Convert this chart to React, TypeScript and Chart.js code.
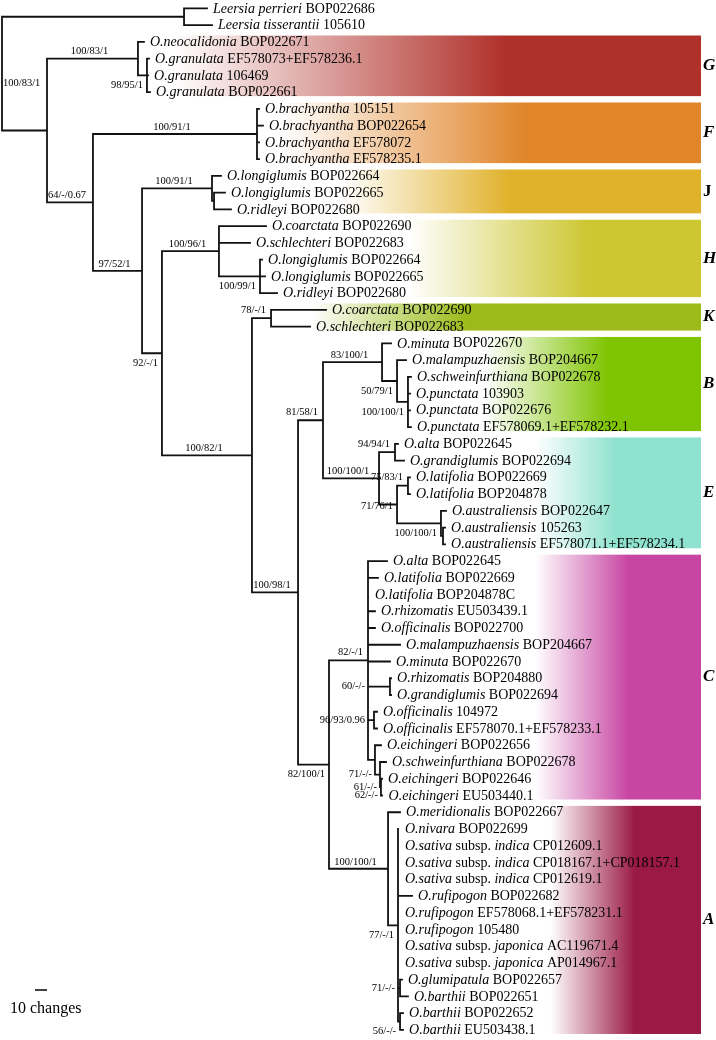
import React, { useEffect, useRef } from "react";
import { Chart, registerables } from "chart.js";
Chart.register(...registerables);

// ---------- DATA ----------
// Tip labels in top-to-bottom order (*...* = italic)
const tipNames: string[] = [
  "*Leersia perrieri* BOP022686",
  "*Leersia tisserantii* 105610",
  "*O.neocalidonia* BOP022671",
  "*O.granulata* EF578073+EF578236.1",
  "*O.granulata* 106469",
  "*O.granulata* BOP022661",
  "*O.brachyantha* 105151",
  "*O.brachyantha* BOP022654",
  "*O.brachyantha* EF578072",
  "*O.brachyantha* EF578235.1",
  "*O.longiglumis* BOP022664",
  "*O.longiglumis* BOP022665",
  "*O.ridleyi* BOP022680",
  "*O.coarctata* BOP022690",
  "*O.schlechteri* BOP022683",
  "*O.longiglumis* BOP022664",
  "*O.longiglumis* BOP022665",
  "*O.ridleyi* BOP022680",
  "*O.coarctata* BOP022690",
  "*O.schlechteri* BOP022683",
  "*O.minuta* BOP022670",
  "*O.malampuzhaensis* BOP204667",
  "*O.schweinfurthiana* BOP022678",
  "*O.punctata* 103903",
  "*O.punctata* BOP022676",
  "*O.punctata* EF578069.1+EF578232.1",
  "*O.alta* BOP022645",
  "*O.grandiglumis* BOP022694",
  "*O.latifolia* BOP022669",
  "*O.latifolia* BOP204878",
  "*O.australiensis* BOP022647",
  "*O.australiensis* 105263",
  "*O.australiensis* EF578071.1+EF578234.1",
  "*O.alta* BOP022645",
  "*O.latifolia* BOP022669",
  "*O.latifolia* BOP204878C",
  "*O.rhizomatis* EU503439.1",
  "*O.officinalis* BOP022700",
  "*O.malampuzhaensis* BOP204667",
  "*O.minuta* BOP022670",
  "*O.rhizomatis* BOP204880",
  "*O.grandiglumis* BOP022694",
  "*O.officinalis* 104972",
  "*O.officinalis* EF578070.1+EF578233.1",
  "*O.eichingeri* BOP022656",
  "*O.schweinfurthiana* BOP022678",
  "*O.eichingeri* BOP022646",
  "*O.eichingeri* EU503440.1",
  "*O.meridionalis* BOP022667",
  "*O.nivara* BOP022699",
  "*O.sativa* subsp. *indica* CP012609.1",
  "*O.sativa* subsp. *indica* CP018167.1+CP018157.1",
  "*O.sativa* subsp. *indica* CP012619.1",
  "*O.rufipogon* BOP022682",
  "*O.rufipogon* EF578068.1+EF578231.1",
  "*O.rufipogon* 105480",
  "*O.sativa* subsp. *japonica* AC119671.4",
  "*O.sativa* subsp. *japonica* AP014967.1",
  "*O.glumipatula* BOP022657",
  "*O.barthii* BOP022651",
  "*O.barthii* BOP022652",
  "*O.barthii* EU503438.1",
];

// parent internal node of each tip
const tipParents: number[] = [
  1, 1, 3, 4, 4, 4, 6, 6, 6, 6, 8, 9, 9, 11, 11, 12, 12, 12, 14, 14,
  17, 18, 19, 19, 19, 19, 21, 21, 23, 23, 24, 25, 25,
  27, 27, 27, 27, 27, 27, 27, 28, 28, 29, 29, 30, 31, 32, 33,
  34, 35, 35, 35, 35, 35, 35, 35, 35, 35, 36, 36, 37, 37,
];

// distance from root (changes) of each tip
const tipDepths: number[] = [
  170.8, 175, 118.3, 122.5, 121.7, 123.3, 214.2, 217.5, 214.2, 214.2,
  182.5, 185.8, 190.8, 220, 206.7, 216.7, 219.2, 229.2, 270, 256.7,
  324.2, 336.7, 340.8, 340, 340, 340.8, 330, 335, 340, 340, 370, 369.2, 369.2,
  320.8, 313.3, 305.8, 310.8, 310.8, 331.7, 323.3, 324.2, 324.2, 312.5, 312.5,
  315.8, 320, 316.7, 317.1,
  331.7, 330.8, 330.8, 330.8, 330.8, 341.7, 330.8, 330.8, 330.8, 330.8,
  333.3, 338.3, 334.2, 334.2,
];

// internal nodes: parent, depth from root (changes), support value
const nodeParents: number[] = [
  -1, 0, 0, 2, 3, 2, 5, 5, 7, 8, 7, 10, 11, 10, 13, 13, 15, 16, 17, 18,
  16, 20, 20, 22, 22, 24, 15, 26, 27, 27, 27, 30, 31, 32, 26, 34, 35, 35,
];
const nodeDepths: number[] = [
  0, 151.7, 37.5, 113.3, 120.8, 75.8, 212.5, 116.7, 175, 176.7, 133.3, 180.8,
  215, 208.3, 224.2, 246.7, 267.5, 316.7, 329.2, 338.3, 314.2, 327.5, 329.2,
  338.3, 365.8, 367.5, 272.5, 305, 323.3, 310, 310.8, 315, 315.8, 316.7,
  321.7, 330, 331.7, 331.7,
];
const nodeSupports: string[] = [
  "100/83/1", "", "", "100/83/1", "98/95/1", "64/-/0.67", "100/91/1", "97/52/1",
  "100/91/1", "", "92/-/1", "100/96/1", "100/99/1", "100/82/1", "78/-/1", "100/98/1",
  "81/58/1", "83/100/1", "50/79/1", "100/100/1", "100/100/1", "94/94/1", "71/76/1",
  "75/83/1", "100/100/1", "", "82/100/1", "82/-/1", "60/-/-", "96/93/0.96", "",
  "71/-/-", "61/-/-", "62/-/-", "100/100/1", "77/-/1", "71/-/-", "56/-/-",
];

// clades
const cladeLetters: string[] = ["G", "F", "J", "H", "K", "B", "E", "C", "A"];
const cladeFirstTip: number[] = [2, 6, 10, 13, 18, 20, 26, 33, 48];
const cladeLastTip: number[] = [5, 9, 12, 17, 19, 25, 32, 47, 61];

const scaleBarChanges = 10;
const scaleBarLabel = "10 changes";

// ---------- STYLE ----------
const supportPlacement: string[] = [
  "rightBelow", "", "", "above", "belowLeft", "above", "above", "above",
  "above", "", "belowLeft", "above", "belowLeft", "above", "aboveLeft", "above",
  "aboveLeft", "above", "belowLeft", "belowLeft", "above", "aboveLeft", "left",
  "aboveLeft", "belowLeft", "", "belowLeft", "aboveLeft", "parentLeft", "parentLeft", "",
  "parentLeft", "parentLeft", "parentLeft", "above", "belowLeft", "parentLeft", "belowLeft",
];
const cladeColors: string[] = [
  "#b0302a", "#e0852a", "#e0b22c", "#cdc732", "#9cbb1a",
  "#7fc400", "#8fe2cf", "#c846a3", "#9b1a45",
];
const cladeFade: number[][] = [
  [0.05, 0.65], [0.05, 0.6], [0.25, 0.6], [0.35, 0.75], [0.0, 0.4],
  [0.3, 0.7], [0.45, 0.72], [0.5, 0.78], [0.5, 0.78],
];
const cladeItalic: boolean[] = [true, true, false, true, true, true, true, true, true];
const SERIF = '"Liberation Serif", "Times New Roman", serif';
const W = 716;
const H = 1040;
const BAND_RIGHT = 701;
const LABEL_GAP = 6;

function layoutTree() {
  const n = nodeParents.length;
  const children: { t: number; i: number }[][] = Array.from({ length: n }, () => []);
  tipParents.forEach((p, i) => children[p].push({ t: 0, i }));
  nodeParents.forEach((p, i) => {
    if (p >= 0) children[p].push({ t: 1, i });
  });
  const nodeY: number[] = new Array(n).fill(NaN);
  const yOf = (c: { t: number; i: number }): number => (c.t === 0 ? c.i : nodeYOf(c.i));
  function nodeYOf(k: number): number {
    if (!isNaN(nodeY[k])) return nodeY[k];
    const ys = children[k].map(yOf);
    nodeY[k] = (Math.min(...ys) + Math.max(...ys)) / 2;
    return nodeY[k];
  }
  for (let k = 0; k < n; k++) nodeYOf(k);
  return { children, nodeY };
}

function drawRich(ctx: CanvasRenderingContext2D, text: string, x: number, y: number, size: number) {
  const parts = text.split("*");
  let cx = x;
  parts.forEach((p, idx) => {
    if (!p) return;
    ctx.font = `${idx % 2 === 1 ? "italic " : ""}${size}px ${SERIF}`;
    ctx.fillText(p, cx, y);
    cx += ctx.measureText(p).width;
  });
}

export default function App() {
  const ref = useRef<HTMLCanvasElement | null>(null);
  useEffect(() => {
    if (!ref.current) return;
    const { children, nodeY } = layoutTree();
    const pts: { x: number; y: number }[] = [];
    const gap = { x: NaN, y: NaN };
    children.forEach((ch, k) => {
      const ys = ch.map((c) => (c.t === 0 ? c.i : nodeY[c.i]));
      const x0 = nodeDepths[k];
      pts.push({ x: x0, y: Math.min(...ys) }, { x: x0, y: Math.max(...ys) }, gap);
      ch.forEach((c) => {
        const cy = c.t === 0 ? c.i : nodeY[c.i];
        const cx = c.t === 0 ? tipDepths[c.i] : nodeDepths[c.i];
        pts.push({ x: x0, y: cy }, { x: cx, y: cy }, gap);
      });
    });

    const bandsPlugin = {
      id: "bands",
      beforeDatasetsDraw(chart: any) {
        const ctx = chart.ctx as CanvasRenderingContext2D;
        const xs = chart.scales.x;
        const ys = chart.scales.y;
        ctx.save();
        cladeLetters.forEach((L, k) => {
          let left = Infinity;
          for (let i = cladeFirstTip[k]; i <= cladeLastTip[k]; i++) {
            left = Math.min(left, xs.getPixelForValue(tipDepths[i]) + LABEL_GAP);
          }
          left -= 5;
          const top = ys.getPixelForValue(cladeFirstTip[k] - 0.38);
          const bottom = ys.getPixelForValue(cladeLastTip[k] + 0.24);
          const g = ctx.createLinearGradient(left, 0, BAND_RIGHT, 0);
          g.addColorStop(0, "#ffffff");
          g.addColorStop(cladeFade[k][0], "#ffffff");
          g.addColorStop(cladeFade[k][1], cladeColors[k]);
          g.addColorStop(1, cladeColors[k]);
          ctx.fillStyle = g;
          ctx.fillRect(left, top, BAND_RIGHT - left, bottom - top);
          ctx.fillStyle = "#000";
          ctx.font = `${cladeItalic[k] ? "italic " : ""}bold 17px ${SERIF}`;
          ctx.textAlign = "left";
          ctx.textBaseline = "middle";
          ctx.fillText(L, BAND_RIGHT + 2, (top + bottom) / 2);
        });
        ctx.restore();
      },
      afterDatasetsDraw(chart: any) {
        const ctx = chart.ctx as CanvasRenderingContext2D;
        const xs = chart.scales.x;
        const ys = chart.scales.y;
        ctx.save();
        ctx.fillStyle = "#000";
        ctx.textBaseline = "middle";
        ctx.textAlign = "left";
        tipNames.forEach((name, i) => {
          drawRich(ctx, name, xs.getPixelForValue(tipDepths[i]) + LABEL_GAP, ys.getPixelForValue(i) + 0.5, 14);
        });
        ctx.font = `10.5px ${SERIF}`;
        nodeSupports.forEach((s, k) => {
          if (!s) return;
          const nx = xs.getPixelForValue(nodeDepths[k]);
          const ny = ys.getPixelForValue(nodeY[k]);
          const p = nodeParents[k];
          const px = p >= 0 ? xs.getPixelForValue(nodeDepths[p]) : nx;
          const mode = supportPlacement[k];
          let x = nx, y = ny;
          if (mode === "above") { ctx.textAlign = "center"; x = (nx + px) / 2 - 3; y = ny - 7; }
          else if (mode === "aboveLeft") { ctx.textAlign = "right"; x = nx - 5; y = ny - 8; }
          else if (mode === "belowLeft") { ctx.textAlign = "right"; x = nx - 4; y = ny + 10; }
          else if (mode === "left") { ctx.textAlign = "right"; x = nx - 4; y = ny + 2; }
          else if (mode === "parentLeft") { ctx.textAlign = "right"; x = px - 3; y = ny; }
          else if (mode === "rightBelow") { ctx.textAlign = "left"; x = nx + 1; y = ny + 10; }
          ctx.fillText(s, x, y);
        });
        // scale bar
        const len = xs.getPixelForValue(scaleBarChanges) - xs.getPixelForValue(0);
        ctx.strokeStyle = "#000";
        ctx.lineWidth = 1.5;
        ctx.beginPath();
        ctx.moveTo(35, 990);
        ctx.lineTo(35 + len, 990);
        ctx.stroke();
        ctx.textAlign = "left";
        ctx.font = `16px ${SERIF}`;
        ctx.fillText(scaleBarLabel, 10, 1009);
        ctx.restore();
      },
    };

    const chart = new Chart(ref.current, {
      type: "scatter",
      data: {
        datasets: [
          {
            data: pts,
            showLine: true,
            spanGaps: false,
            borderColor: "#111",
            borderWidth: 1.8,
            pointRadius: 0,
            borderCapStyle: "square",
          } as any,
        ],
      },
      options: {
        responsive: false,
        animation: false,
        layout: { padding: 0 },
        plugins: { legend: { display: false }, tooltip: { enabled: false } },
        scales: {
          x: { type: "linear", display: false, min: -1.667, max: 595 },
          y: { type: "linear", display: false, reverse: true, min: -0.5, max: 61.6 },
        },
      },
      plugins: [bandsPlugin],
    });
    return () => chart.destroy();
  }, []);
  return (
    <div style={{ position: "absolute", left: 0, top: 0, width: W, height: H, background: "#fff" }}>
      <canvas ref={ref} width={W} height={H} />
    </div>
  );
}
